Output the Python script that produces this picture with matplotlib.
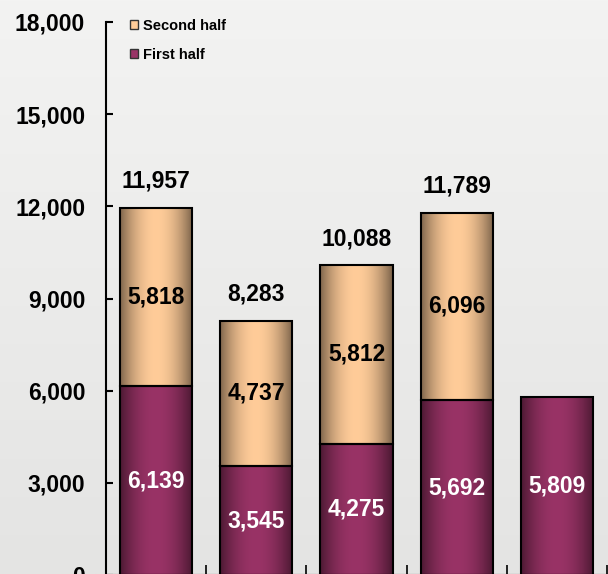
import numpy as np
import matplotlib
matplotlib.use("Agg")
import matplotlib.pyplot as plt
from matplotlib.patches import Patch
from matplotlib.colors import to_rgb
from matplotlib.ticker import FuncFormatter

categories = ["A", "B", "C", "D", "E"]
first_half = [6139, 3545, 4275, 5692, 5809]
second_half = [5818, 4737, 5812, 6096, None]
totals = [11957, 8283, 10088, 11789, None]
yticks = [0, 3000, 6000, 9000, 12000, 15000, 18000]

plt.rcParams['font.family'] = ['Liberation Sans', 'DejaVu Sans']
plt.rcParams['font.weight'] = 'bold'

W, H, DPI = 608, 574, 100
fig = plt.figure(figsize=(W / DPI, H / DPI), dpi=DPI)

# background
bg = fig.add_axes([0, 0, 1, 1], zorder=-10)
grad = np.linspace(0, 1, 256)[:, None]
top = np.array(to_rgb('#F3F3F2'))
bot = np.array(to_rgb('#E4E4E3'))
img = top[None, None, :] * (1 - grad[..., None]) + bot[None, None, :] * grad[..., None]
bg.imshow(img, aspect='auto', extent=[0, 1, 0, 1])
bg.set_axis_off()

ax = fig.add_axes([106 / W, (H - 575) / H, 501 / W, (575 - 22) / H])
ax.patch.set_alpha(0)

x = np.arange(len(categories))
bw = 0.72

c_first = '#993366'
c_second = '#FFCC99'


def shade(base, n=200):
    t = np.linspace(0, 1, n)
    f = 0.40 + 0.60 * np.clip(np.sin(np.pi * (t * 0.95 + 0.03)), 0, 1) ** 0.8
    b = np.array(to_rgb(base))
    row = np.clip(b[None, :] * f[:, None], 0, 1)
    return row[None, :, :]


def grad_bars(bars, base):
    g = shade(base)
    for p in bars:
        x0, y0 = p.get_x(), p.get_y()
        w, h = p.get_width(), p.get_height()
        im = ax.imshow(g, aspect='auto', extent=[x0, x0 + w, y0, y0 + h],
                       zorder=2, interpolation='bilinear')
        im.set_clip_path(p)


fh = np.array(first_half, dtype=float)
b1 = ax.bar(x, fh, bw, facecolor='none', edgecolor='black', linewidth=1.5, zorder=3)
grad_bars(b1, c_first)

idx2 = [i for i, v in enumerate(second_half) if v is not None]
sh = np.array([second_half[i] for i in idx2], dtype=float)
b2 = ax.bar(x[idx2], sh, bw, bottom=fh[idx2], facecolor='none', edgecolor='black',
            linewidth=1.5, zorder=3)
grad_bars(b2, c_second)

fs = 16.5
for i, v in enumerate(first_half):
    ax.text(x[i], v / 2, f"{v:,}", ha='center', va='center', color='white',
            fontsize=fs, fontweight='bold', zorder=5)
for k, i in enumerate(idx2):
    v = second_half[i]
    ax.text(x[i], first_half[i] + v / 2, f"{v:,}", ha='center', va='center', color='black',
            fontsize=fs, fontweight='bold', zorder=5)
for i, v in enumerate(totals):
    if v is None:
        continue
    ax.annotate(f"{v:,}", (x[i], v), xytext=(0, 19), textcoords='offset points',
                ha='center', va='center', fontsize=fs, fontweight='bold', color='black',
                zorder=5)

ax.set_xlim(-0.5, len(categories) - 0.5)
ax.set_ylim(0, 18000)
ax.set_yticks(yticks)
ax.yaxis.set_major_formatter(FuncFormatter(lambda v, p: f"{int(v):,}"))
ax.tick_params(axis='y', direction='in', length=5, width=1.5, pad=15, labelsize=fs)
for lab in ax.get_yticklabels():
    lab.set_fontweight('bold')
ax.set_xticks(np.arange(len(categories)) + 0.5)
ax.set_xticklabels([])
ax.tick_params(axis='x', direction='in', length=7, width=1.2)
for s in ['top', 'right']:
    ax.spines[s].set_visible(False)
for s in ['left', 'bottom']:
    ax.spines[s].set_linewidth(1.5)
    ax.spines[s].set_color('black')

handles = [Patch(facecolor=c_second, edgecolor='#333333', linewidth=1.0, label='Second half'),
           Patch(facecolor=c_first, edgecolor='#333333', linewidth=1.0, label='First half')]
leg = fig.legend(handles=handles, loc='upper left', bbox_to_anchor=(130 / W, 1 - 19 / H),
                 frameon=False, prop={'weight': 'bold', 'size': 10.5},
                 handlelength=0.55, handleheight=0.55, handletextpad=0.35, labelspacing=1.0,
                 borderaxespad=0, borderpad=0)

fig.savefig('out.png', dpi=DPI)
